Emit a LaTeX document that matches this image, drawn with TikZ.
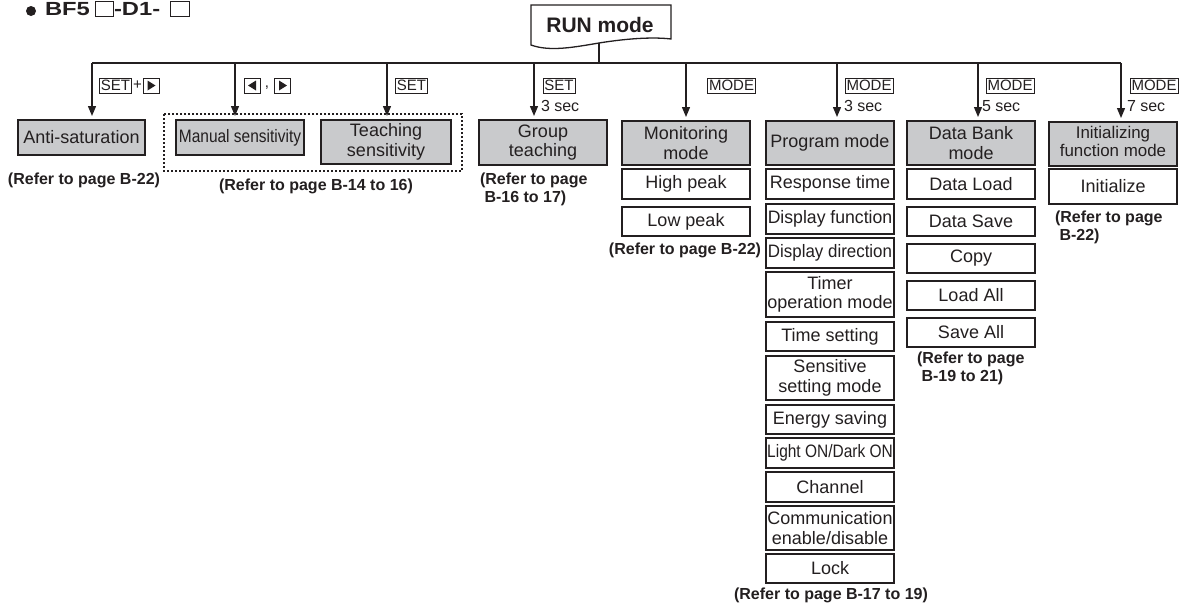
\documentclass[tikz,border=0pt]{standalone}
\usepackage{fontspec}
\setmainfont{Liberation Sans}
\usetikzlibrary{arrows.meta,calc}
\definecolor{hdr}{RGB}{201,202,204}
\definecolor{ink}{RGB}{35,31,32}
\begin{document}
\begin{tikzpicture}[x=1pt,y=-1pt,
  every node/.style={inner sep=0pt, outer sep=0pt, text=ink},
  boxtxt/.style={font=\fontsize{18}{19.5}\selectfont, align=center},
  hbox/.style={boxtxt, draw=ink, fill=hdr, line width=1.3pt, minimum width=128pt, minimum height=44pt},
  sbox/.style={boxtxt, draw=ink, fill=white, line width=1.1pt, minimum width=128pt, minimum height=30pt},
  reftxt/.style={font=\bfseries\fontsize{16}{18}\selectfont, align=left},
  keybox/.style={draw=ink, line width=0.7pt, font=\fontsize{15}{15}\selectfont, inner xsep=1.5pt, minimum height=15pt},
  trikey/.style={draw=ink, line width=0.7pt, minimum width=16pt, minimum height=15pt},
  sectxt/.style={font=\fontsize{16}{16}\selectfont, anchor=west},
  arr/.style={draw=ink, line width=1.3pt, -{Triangle[length=10pt,width=8pt]}, shorten >=4pt},
  bus/.style={draw=ink, line width=1.3pt},
  titletxt/.style={font=\bfseries\fontsize{19}{19}\selectfont, anchor=base west},
]
\useasboundingbox (0,0) rectangle (1190,606);

% ---------- title ----------
\fill[ink] (31,11) circle (5);
\node[titletxt] (tA) at (45,15.5) {\scalebox{1.25}[1]{BF5}};
\draw[ink, line width=0.8pt] (95,1.5) rectangle (113,16);
\node[titletxt] (tB) at (114,15.5) {\scalebox{1.25}[1]{-D1-}};
\draw[ink, line width=0.8pt] (170,1.5) rectangle (189,16);

% ---------- RUN mode ----------
\draw[ink, line width=1.3pt, fill=white] (531,5) -- (671,5) -- (671,39)
  .. controls (655,37) and (630,38) .. (599,43)
  .. controls (575,47) and (550,52) .. (531,45) -- cycle;
\node[font=\bfseries\fontsize{21}{21}\selectfont] (run) at (600,24.5) {RUN mode};
\coordinate (runbot) at (599,43);

% ---------- bus ----------
\coordinate (b1) at (92,63);
\coordinate (b2) at (235,63);
\coordinate (b3) at (387,63);
\coordinate (b4) at (534,63);
\coordinate (b5) at (686,63);
\coordinate (b6) at (837,63);
\coordinate (b7) at (978,63);
\coordinate (b8) at (1121,63);
\draw[bus] (b1) -- (b8);
\draw[bus] (runbot) -- (runbot |- b1);

% ---------- level-1 boxes ----------
\node[hbox, minimum width=127pt, minimum height=35pt] (anti) at (81.5,137.5) {Anti-saturation};
\node[hbox, minimum height=35pt] (manual) at (240,137.5) {\scalebox{0.86}[1]{Manual sensitivity}};
\node[hbox, minimum width=130pt] (teach) at (386,142) {Teaching\\sensitivity};
\draw[ink, line width=1.6pt, dash pattern=on 1.6pt off 2.4pt] (164,114) rectangle (462,171);
\node[hbox, minimum height=45pt] (group) at (543,142.5) {Group\\teaching};
\node[hbox] (mon) at (686,143) {Monitoring\\mode};
\node[hbox] (prog) at (830,143) {Program mode};
\node[hbox] (bank) at (971,143) {Data Bank\\mode};
\node[hbox] (init) at (1113,144) {\scalebox{0.94}{\begin{tabular}{@{}c@{}}Initializing\\[-1pt]function mode\end{tabular}}};

% ---------- arrows ----------
\draw[arr] (b1) -- (b1 |- anti.north);
\draw[arr] (b2) -- (b2 |- manual.north);
\draw[arr] (b3) -- (b3 |- teach.north);
\draw[arr] (b4) -- (b4 |- group.north);
\draw[arr] (b5) -- (b5 |- mon.north);
\draw[arr] (b6) -- (b6 |- prog.north);
\draw[arr] (b7) -- (b7 |- bank.north);
\draw[arr] (b8) -- (b8 |- init.north);

% ---------- key labels ----------
\node[keybox] (k1) at (115.5,85.5) {SET};
\node[font=\fontsize{15}{15}\selectfont] (k1p) at (137.5,85.5) {+};
\node[trikey] (k1r) at (151,85.5) {};
\fill[ink] ($(k1r.center)+(-3.5,-5)$) -- ($(k1r.center)+(4.5,0)$) -- ($(k1r.center)+(-3.5,5)$) -- cycle;
\node[trikey] (k2l) at (252.5,85.5) {};
\fill[ink] ($(k2l.center)+(3.5,-5)$) -- ($(k2l.center)+(-4.5,0)$) -- ($(k2l.center)+(3.5,5)$) -- cycle;
\node[font=\fontsize{15}{15}\selectfont] (k2c) at (267,88) {,};
\node[trikey] (k2r) at (282.5,85.5) {};
\fill[ink] ($(k2r.center)+(-3.5,-5)$) -- ($(k2r.center)+(4.5,0)$) -- ($(k2r.center)+(-3.5,5)$) -- cycle;
\node[keybox] (k3) at (411.5,85.5) {SET};
\node[keybox] (k4) at (559,85.5) {SET};
\node[sectxt] (s4) at (541,106) {3 sec};
\node[keybox] (k5) at (731.5,85.5) {MODE};
\node[keybox] (k6) at (869,85.5) {MODE};
\node[sectxt] (s6) at (844,106) {3 sec};
\node[keybox] (k7) at (1010,85.5) {MODE};
\node[sectxt] (s7) at (982,106) {5 sec};
\node[keybox] (k8) at (1154,85.5) {MODE};
\node[sectxt] (s8) at (1127,106) {7 sec};

% ---------- monitoring sub-boxes ----------
\node[sbox] (hp) at (686,184) {High peak};
\node[sbox, minimum height=29pt] (lp) at (686,221.5) {Low peak};

% ---------- program sub-boxes ----------
\node[sbox] (rt) at (830,184) {Response time};
\node[sbox] (df) at (830,219) {\scalebox{0.98}[1]{Display function}};
\node[sbox] (dd) at (830,253) {\scalebox{0.94}[1]{Display direction}};
\node[sbox, minimum height=45pt] (tom) at (830,294.5) {Timer\\operation mode};
\node[sbox, minimum height=29pt] (ts) at (830,336.5) {Time setting};
\node[sbox, minimum height=44pt] (ssm) at (830,378) {Sensitive\\setting mode};
\node[sbox, minimum height=29pt] (es) at (830,419.5) {Energy saving};
\node[sbox] (lo) at (830,453) {\scalebox{0.86}[1]{Light ON/Dark ON}};
\node[sbox] (ch) at (830,487) {Channel};
\node[sbox, minimum height=44pt] (ced) at (830,528) {Communication\\enable/disable};
\node[sbox, minimum height=29pt] (lock) at (830,568.5) {Lock};

% ---------- data bank sub-boxes ----------
\node[sbox] (dl) at (971,184) {Data Load};
\node[sbox, minimum height=29pt] (ds) at (971,221.5) {Data Save};
\node[sbox, minimum height=29pt] (cp) at (971,258.5) {Copy};
\node[sbox, minimum height=29pt] (la) at (971,295.5) {Load All};
\node[sbox, minimum height=29pt] (sa) at (971,332.5) {Save All};

% ---------- initializing sub-box ----------
\node[sbox, minimum height=35pt] (ini) at (1113,186.5) {Initialize};

% ---------- reference labels ----------
\node[reftxt] (r1) at (84,180) {(Refer to page B-22)};
\node[reftxt] (r2) at (316,186) {(Refer to page B-14 to 16)};
\node[reftxt, anchor=west] (r3) at (480,189) {(Refer to page\\\hspace*{4.5pt}B-16 to 17)};
\node[reftxt] (r4) at (685,250) {(Refer to page B-22)};
\node[reftxt, anchor=west] (r5) at (917,368.5) {(Refer to page\\\hspace*{4.5pt}B-19 to 21)};
\node[reftxt, anchor=west] (r6) at (1055,227.5) {(Refer to page\\\hspace*{4.5pt}B-22)};
\node[reftxt] (r7) at (831,595) {(Refer to page B-17 to 19)};
\end{tikzpicture}
\end{document}
